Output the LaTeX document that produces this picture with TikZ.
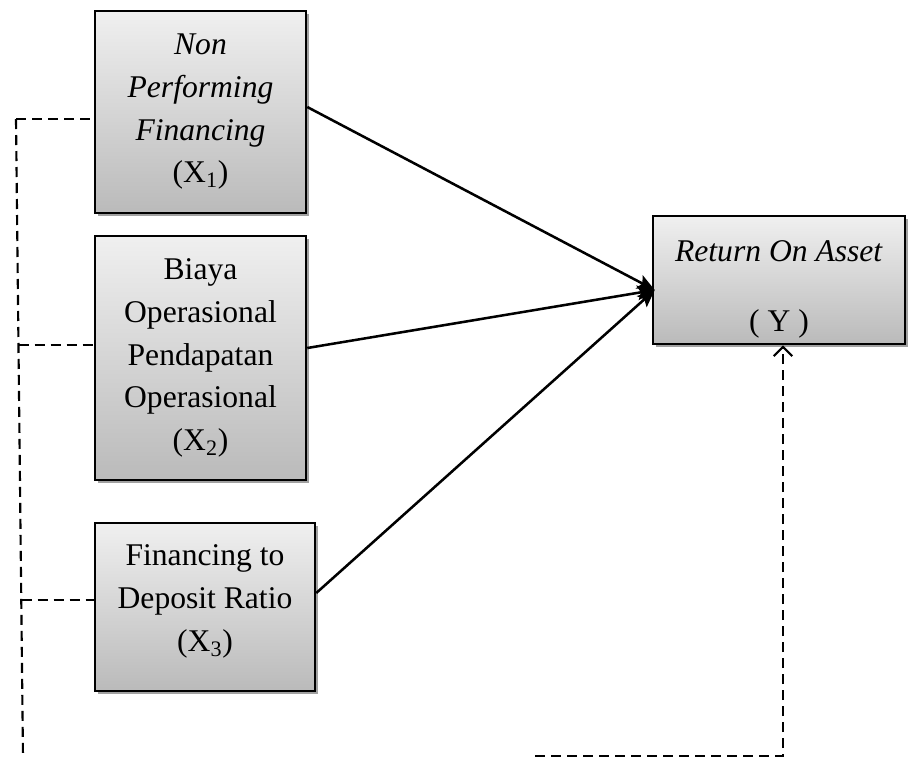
\documentclass[tikz,border=0pt]{standalone}
\usepackage{fontspec}
\setmainfont{Liberation Serif}
\usetikzlibrary{arrows.meta,calc,shadows}

\tikzset{
  varbox/.style={draw=black, line width=1.9pt, top color=black!6, bottom color=black!27,
    drop shadow={shadow xshift=2.5pt, shadow yshift=-2.5pt, fill=black!37, opacity=1},
    align=center, inner sep=0pt, font=\fontsize{23.7}{32}\selectfont},
  effect/.style={line width=1.9pt, -{Stealth[length=13pt, width=11pt, inset=2.5pt]}},
  link/.style={line width=1.6pt, dash pattern=on 7.5pt off 4.5pt}
}

\begin{document}
\begin{tikzpicture}[x=0.75pt,y=0.75pt,yscale=-1,xscale=1]
\useasboundingbox (0,0) rectangle (908,758);

% Variable boxes
\node [varbox, minimum width=158.25pt, minimum height=151.5pt] (x1) at (200.5,112) {\textit{Non}\\\textit{Performing}\\\textit{Financing}\\(X\textsubscript{1})};
\node [varbox, minimum width=158.25pt, minimum height=183pt] (x2) at (200.5,358) {Biaya\\Operasional\\Pendapatan\\Operasional\\(X\textsubscript{2})};
\node [varbox, minimum width=165pt, minimum height=126pt] (x3) at (205,607) {Financing to\\Deposit Ratio\\(X\textsubscript{3})\\[-18.5pt]};
\node [varbox, minimum width=189pt, minimum height=96pt] (ry) at (779,280) {\mbox{}\\[-2pt]\textit{Return On Asset}\\[20pt]( Y )};

% Partial effects
\coordinate (tip) at ($(ry.west)+(3,10)$);
\draw [effect] ($(x1.east)+(0,-5)$) -- (tip);
\draw [effect] ($(x2.east)+(0,-10)$) -- (tip);
\draw [effect] ($(x3.east)+(0,-14)$) -- (tip);

% Simultaneous effect
\coordinate (ltop) at (16,119);
\coordinate (lbot) at (23,758);
\coordinate (lmid) at (18.5,345);
\coordinate (llow) at (21.5,600);
\coordinate (bl) at (535,756);
\coordinate (br) at (783,756);
\draw [link] (ltop) -- (lbot);
\draw [link] (ltop) -- (ltop -| x1.west);
\draw [link] (lmid) -- (lmid -| x2.west);
\draw [link] (llow) -- (llow -| x3.west);
\draw [link, -{Straight Barb[length=7pt, width=14pt]}] (bl) -- (br) -- (br |- ry.south);

\end{tikzpicture}
\end{document}
